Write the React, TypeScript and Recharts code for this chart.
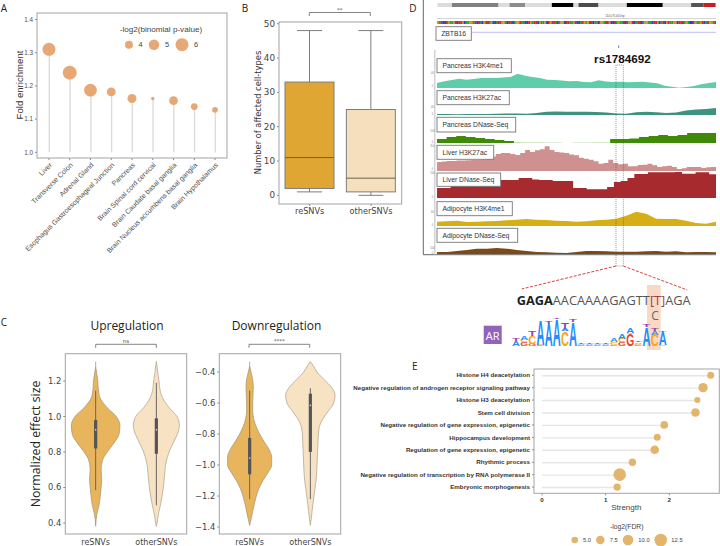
import React from "react"
import {
  Area,
  Bar,
  BarChart,
  Cell,
  ComposedChart,
  Line,
  ReferenceDot,
  ReferenceLine,
  XAxis,
  YAxis,
} from "recharts"

// panel A
const tissues = [
  "Liver",
  "Transverse Colon",
  "Adrenal Gland",
  "Esophagus Gastroesophageal Junction",
  "Pancreas",
  "Brain Spinal cord cervical",
  "Brain Caudate basal ganglia",
  "Brain Nucleus accumbens basal ganglia",
  "Brain Hypothalamus",
]
const foldEnrichment = [1.31, 1.24, 1.187, 1.182, 1.162, 1.162, 1.156, 1.138, 1.128]
const binomialScore = [6, 6.4, 5.9, 4.3, 4.4, 2.2, 4.3, 3.5, 3.1]
const binomialLegend = [4, 5, 6]

// panel B
const groups = ["reSNVs", "otherSNVs"]
const boxWhiskerLow = [1, 0]
const boxQ1 = [2, 1]
const boxMedian = [11, 5]
const boxQ3 = [33, 25]
const boxWhiskerHigh = [48, 48]

// panel C, half widths of the violins per effect size
const upEffect = [1.31, 1.28, 1.25, 1.2, 1.15, 1.1, 1.05, 1, 0.95, 0.9, 0.85, 0.8, 0.75, 0.7, 0.65, 0.6, 0.55, 0.5, 0.45, 0.385, 0.38]
const upReWidth = [null, 0, 0.015, 0.035, 0.045, 0.08, 0.19, 0.34, 0.4, 0.385, 0.3, 0.19, 0.11, 0.09, 0.1, 0.09, 0.075, 0.055, 0.02, 0, null]
const upOtherWidth = [0, 0.012, 0.022, 0.044, 0.06, 0.11, 0.21, 0.34, 0.38, 0.345, 0.275, 0.21, 0.165, 0.143, 0.13, 0.115, 0.093, 0.066, 0.033, 0.004, 0]
const upWhiskers = [[1.145, 0.585], [1.19, 0.5]]
const upBoxes = [[0.98, 0.82], [0.99, 0.79]]
const upMedians = [0.925, 0.925]

const downEffect = [-0.333, -0.36, -0.4, -0.45, -0.5, -0.55, -0.6, -0.65, -0.7, -0.75, -0.8, -0.85, -0.9, -0.95, -1, -1.05, -1.1, -1.15, -1.2, -1.25, -1.3, -1.35, -1.39]
const downReWidth = [null, 0, 0.022, 0.05, 0.06, 0.055, 0.05, 0.05, 0.066, 0.105, 0.165, 0.24, 0.32, 0.363, 0.363, 0.3, 0.22, 0.154, 0.11, 0.077, 0.05, 0.022, 0]
const downOtherWidth = [0, 0.05, 0.11, 0.23, 0.35, 0.407, 0.385, 0.3, 0.21, 0.15, 0.132, 0.126, 0.12, 0.115, 0.11, 0.104, 0.094, 0.077, 0.06, 0.044, 0.028, 0.014, 0]
const downWhiskers = [[-0.52, -1.22], [-0.505, -1.22]]
const downBoxes = [[-0.825, -1.06], [-0.54, -0.915]]
const downMedians = [-0.955, -0.615]

// panel D
const ideogramLengths = [44, 140, 33, 47, 80, 65, 15, 60, 85, 108, 85, 37, 37]
const ideogramShades = ["#dcdcdc", "#808080", "#dcdcdc", "#8c8c8c", "#dcdcdc", "#000000", "#dcdcdc", "#4c4c4c", "#dcdcdc", "#000000", "#dcdcdc", "#555555", "#c81e1e"]
const referenceBases =
  "GATCCTGAAGTCTTGCAAGGATCTACGTTAGCCATTGGACTTCAGGTAACCTGATTCGAAGCTGTTACAGGCTTAAGTCCATGAGTTCAACGGATTGCCTAGAATCTGGTCATTCAGGAACTTGCATCGTAAGGCTTTAGACCTGAAGTCATGGAT"
const baseColors: Record<string, string> = { A: "#2fa02f", C: "#2a3fd0", G: "#d9921a", T: "#d02a2a" }

const h3k4me1Pancreas = [5, 6.7, 8, 9.3, 8.3, 9, 10, 10, 10, 10.5, 11, 14.3, 12.3, 11, 10, 8.3, 8, 7.5, 6.7, 7, 6, 5.7, 7.7, 6.5, 6, 6.3, 5.7, 6, 6.3, 5.5, 4.7, 2.3, 1.3, 0.3, 1, 2, 3.7, 5, 6]
const h3k27acPancreas = [1, 1, 0.8, 1, 1, 1, 1.2, 1.5, 1.5, 1.2, 2, 3.2, 3.5, 3.2, 3.3, 3.2, 3, 2.5, 1.5, 1.2, 2.8, 3.2, 2.8, 2, 2.6, 4.5, 5.5, 6, 7]
const dnasePancreas = [4, 6, 7, 6, 5, 4, 3, 2, 0, 0, 0, 0, 0, 0, 0, 0, 0, 0, 4, 4, 4.5, 6, 7, 8, 7, 8, 10, 10, 10, 12]
const dnasePancreasFaint = [0, 0, 0, 0, 0, 0, 0, 0, 1, 0.8, 0.8, 0.6, 0.6, 0, 0.6, 0.6, 0.8, 0.8, 0, 0, 0, 0, 0, 0, 0, 0, 0, 0, 0, 0]
const h3k27acLiver = [9, 9.5, 10, 10, 10.5, 10.5, 10.8, 11, 11, 11.5, 12, 14.5, 17, 18, 18, 17, 16, 18, 21, 19, 20.7, 21.7, 24.7, 21, 19, 18.5, 18, 16.5, 15.7, 13.3, 12.3, 11.3, 9.7, 7.3, 8, 11.3, 8, 6.7, 7.3, 4.7, 4.7, 6, 6.3, 7.3, 5.7, 4, 4.7, 5.3, 4, 2, 2.7, 4, 4, 4, 3, 3.7, 4, 4]
const dnaseLiver = [10, 10, 18, 18, 18, 18, 18, 18, 18, 18, 18, 18, 20, 20, 18.5, 18, 18, 17, 17, 17, 10, 10, 8.7, 8.7, 8.7, 11, 16, 17, 20, 24, 24, 25.7, 25.7, 25.7, 25.7, 26, 24.3, 24.3, 25.7, 25.7, 23.7, 23.7]
const h3k4me1Adipocyte = [4.3, 4.7, 5.3, 4, 4.3, 4.7, 5, 5.7, 6.3, 7, 6.3, 6, 5.3, 5, 4.3, 4.7, 5.7, 6.3, 7.3, 10.3, 14.3, 12.3, 7.3, 7, 7, 5.3, 3, 2.3, 4.3]
const dnaseAdipocyte = [2, 2, 3, 4, 5.3, 5.3, 6, 5.3, 4, 3, 2, 1.7, 1.3, 1, 2, 3, 3, 2.7, 2.3, 2.3, 2.3, 2.7, 3, 2.3, 2.7, 1.7, 2, 2, 1.7]

const tracks = [
  { name: "Pancreas H3K4me1", values: h3k4me1Pancreas, color: "#5fcdaa", base: 87.7, height: 16, curve: "linear", box: [437, 58.7, 74.3, 14], max: "40" },
  { name: "Pancreas H3K27ac", values: h3k27acPancreas, color: "#3f9180", base: 115.3, height: 10, curve: "linear", box: [437, 90.7, 72.3, 14], max: "40" },
  { name: "Pancreas DNase-Seq", values: dnasePancreas, faint: dnasePancreasFaint, color: "#3f8a08", base: 143.3, height: 14, curve: "stepAfter", box: [437, 117.3, 78.7, 14.7], max: "100" },
  { name: "Liver H3K27ac", values: h3k27acLiver, color: "#cf9090", base: 170.7, height: 26, curve: "stepAfter", box: [437, 145.3, 56.7, 14], max: "8.0" },
  { name: "Liver DNase-Seq", values: dnaseLiver, color: "#a72a2f", base: 198.3, height: 27, curve: "stepAfter", box: [437, 173, 63.7, 13.3], max: "100" },
  { name: "Adipocyte H3K4me1", values: h3k4me1Adipocyte, color: "#d6af16", base: 226.3, height: 16, curve: "linear", box: [437, 201.7, 75.3, 14], max: "60" },
  { name: "Adipocyte DNase-Seq", values: dnaseAdipocyte, color: "#7b4a18", base: 254.3, height: 8, curve: "linear", box: [437, 228.3, 80.7, 14], max: "100" },
]

// sequence logo, one value per motif position
const logoG = [0, 0.14, 0.1, 0.03, 0, 0, 0, 0, 0.02, 0.02, 0.02, 0.02, 0.05, 0.15, 0.45, 0.03, 0, 0, 0]
const logoC = [0, 0.1, 0.28, 0.03, 0, 0, 0.55, 0, 0.02, 0.02, 0.02, 0.02, 0.1, 0.12, 0.05, 0.05, 0, 0.42, 0.03]
const logoA = [0.2, 0.12, 0, 0.92, 0.82, 1, 0.08, 0.9, 0.03, 0.03, 0.03, 0.03, 0.15, 0.18, 0.2, 0.06, 0.7, 0.15, 0.5]
const logoT = [0.1, 0, 0.2, 0, 0.08, 0.04, 0.25, 0.08, 0.02, 0.02, 0.02, 0.02, 0, 0, 0, 0.02, 0.1, 0.08, 0.03]

// panel E
const terms = [
  "Histone H4 deacetylation",
  "Negative regulation of androgen receptor signaling pathway",
  "Histone H3 deacetylation",
  "Stem cell division",
  "Negative regulation of gene expression, epigenetic",
  "Hippocampus development",
  "Regulation of gene expression, epigenetic",
  "Rhythmic process",
  "Negative regulation of transcription by RNA polymerase II",
  "Embryonic morphogenesis",
]
const strength = [2.65, 2.53, 2.44, 2.41, 1.92, 1.81, 1.77, 1.42, 1.22, 1.18]
const fdrScore = [5.5, 8.5, 4.3, 7.5, 6.3, 5.5, 7.5, 6, 12.5, 6]
const fdrLegend = [5, 7.5, 10, 12.5]

const panelARows = tissues.map((tissue, i) => ({
  tissue,
  fold: foldEnrichment[i],
  stem: [1, foldEnrichment[i]],
  score: binomialScore[i],
}))
const panelBRows = groups.map((group, i) => ({
  group,
  box: [boxQ1[i], boxQ3[i]],
  low: boxWhiskerLow[i],
  q1: boxQ1[i],
  median: boxMedian[i],
  q3: boxQ3[i],
  high: boxWhiskerHigh[i],
}))
const panelERows = terms.map((term, i) => ({
  term,
  strength: strength[i],
  stem: [0, strength[i]],
  score: fdrScore[i],
}))
const logoRows = logoA.map((a, i) => ({ pos: i, G: logoG[i], C: logoC[i], A: a, T: logoT[i] }))
const baseRows = referenceBases.split("").map((base, i) => ({ pos: i, base, v: 1 }))
const ideogramRow = [Object.fromEntries(ideogramLengths.map((len, i) => [`s${i}`, len]))]

const radiusA = (score: number) => score * 1.25 - 1
const radiusE = (score: number) => 1.3 + score * 0.4

const SANS = "Liberation Sans"
const DEJAVU = "DejaVu Sans"
const OPEN = "Open Sans"
const FRAME = "#a3a3a3"

const place = (left: number, top: number): React.CSSProperties => ({ position: "absolute", left, top })

function Txt({ x, y, size, font = SANS, fill = "#333", anchor = "middle", weight = 400, rotate, children }: any) {
  return (
    <text
      x={x}
      y={y}
      fontSize={size}
      fontFamily={font}
      fill={fill}
      fontWeight={weight}
      textAnchor={anchor}
      dominantBaseline="central"
      transform={rotate ? `rotate(${rotate} ${x} ${y})` : undefined}
    >
      {children}
    </text>
  )
}

function Bracket({ x1, x2, y, mark }: any) {
  return (
    <g>
      <path d={`M${x1} ${y + 3.5}V${y}H${x2}V${y + 3.5}`} fill="none" stroke="#666" strokeWidth={0.8} />
      <Txt x={(x1 + x2) / 2} y={y - 3} size={5.5} fill="#555" font={DEJAVU}>
        {mark}
      </Txt>
    </g>
  )
}

function Frame({ x, y, w, h }: any) {
  return <rect x={x} y={y} width={w} height={h} fill="none" stroke={FRAME} strokeWidth={1} />
}

// tick labels stay on one line, the default tick wraps them
function SlantedTick({ x, y, payload }: any) {
  return (
    <text
      x={x}
      y={y}
      dy="0.7em"
      textAnchor="end"
      fontSize={7}
      fontFamily={SANS}
      fill="#4d4d4d"
      transform={`rotate(-45 ${x} ${y})`}
    >
      {payload.value}
    </text>
  )
}

function TermTick({ x, y, payload }: any) {
  return (
    <text x={x} y={y} dy="0.35em" textAnchor="end" fontSize={6.2} fontFamily={SANS} fontWeight={700} fill="#333">
      {payload.value}
    </text>
  )
}

function BoxShape({ x, y, width, height, payload, index }: any) {
  const unit = height / (payload.q3 - payload.q1)
  const at = (v: number) => y + (payload.q3 - v) * unit
  const mid = x + width / 2
  const stroke = "#7d7d7d"
  return (
    <g stroke={stroke} strokeWidth={1}>
      <line x1={mid} x2={mid} y1={at(payload.high)} y2={at(payload.low)} />
      <line x1={mid - 12.5} x2={mid + 12.5} y1={at(payload.high)} y2={at(payload.high)} />
      <line x1={mid - 12.5} x2={mid + 12.5} y1={at(payload.low)} y2={at(payload.low)} />
      <rect x={x} y={y} width={width} height={height} fill={index === 0 ? "#e0a633" : "#f6dfbc"} />
      <line x1={x} x2={x + width} y1={at(payload.median)} y2={at(payload.median)} stroke="#6b6050" />
    </g>
  )
}

function Violin({ left, effect, reWidth, otherWidth, whiskers, boxes, medians, domain, ticks }: any) {
  const rows = effect.map((y: number, i: number) => ({
    y,
    re: reWidth[i] == null ? null : [0 - reWidth[i], reWidth[i]],
    other: otherWidth[i] == null ? null : [1 - otherWidth[i], 1 + otherWidth[i]],
  }))
  return (
    <div style={place(left, 340)}>
      <ComposedChart width={150} height={206} data={rows} layout="vertical" margin={{ top: 13.7, right: 3.3, bottom: 0, left: 0 }}>
        <XAxis
          type="number"
          domain={[-0.5, 1.5]}
          ticks={[0, 1]}
          height={12}
          interval={0}
          tickFormatter={(v: number) => groups[v]}
          tick={{ fontSize: 8, fontFamily: DEJAVU, fill: "#444", dy: -1 }}
          tickLine={false}
          axisLine={false}
          tickMargin={0}
        />
        <YAxis
          type="number"
          dataKey="y"
          width={25.3}
          domain={domain}
          ticks={ticks}
          reversed
          allowDataOverflow
          interval={0}
          tickFormatter={(v: number) => v.toFixed(1).replace("-", "\u2212")}
          tick={{ fontSize: 8.4, fontFamily: DEJAVU, fill: "#444" }}
          tickLine={{ stroke: "#888" }}
          tickSize={2}
          axisLine={false}
        />
        <Area dataKey="re" type="monotone" fill="#e8b45c" fillOpacity={1} stroke="#a99a7c" strokeWidth={0.8} isAnimationActive={false} dot={false} activeDot={false} />
        <Area dataKey="other" type="monotone" fill="#f8e2c4" fillOpacity={1} stroke="#b5a893" strokeWidth={0.8} isAnimationActive={false} dot={false} activeDot={false} />
        {[0, 1].map((c) => (
          <ReferenceLine key={`w${c}`} segment={[{ x: c, y: whiskers[c][0] }, { x: c, y: whiskers[c][1] }]} stroke="#666" strokeWidth={1} />
        ))}
        {[0, 1].map((c) => (
          <ReferenceLine key={`b${c}`} segment={[{ x: c, y: boxes[c][0] }, { x: c, y: boxes[c][1] }]} stroke="#555" strokeWidth={3.2} />
        ))}
        {[0, 1].map((c) => (
          <ReferenceDot key={`m${c}`} x={c} y={medians[c]} r={0.8} fill="#ddd" stroke="none" />
        ))}
      </ComposedChart>
    </div>
  )
}

function Track({ track }: any) {
  const rows = track.values.map((v: number, i: number) => ({ i, v, faint: track.faint ? track.faint[i] : 0 }))
  return (
    <div style={place(437, track.base - track.height)}>
      <ComposedChart width={279} height={track.height} data={rows} margin={{ top: 0, right: 0, bottom: 0, left: 0 }}>
        <XAxis dataKey="i" hide />
        <YAxis hide domain={[0, track.height]} allowDataOverflow />
        {track.faint && <Area dataKey="faint" type={track.curve} fill="#c9e2b8" fillOpacity={1} stroke="none" isAnimationActive={false} />}
        <Area dataKey="v" type={track.curve} fill={track.color} fillOpacity={1} stroke="none" isAnimationActive={false} />
      </ComposedChart>
    </div>
  )
}

const logoColors: Record<string, string> = { A: "#1f8fff", C: "#ffa414", G: "#f0401e", T: "#9a3fb5" }
const logoAdvance: Record<string, number> = { A: 0.722, C: 0.722, G: 0.778, T: 0.611 }

const logoLetter = (base: string) => ({ x, y, width, height }: any) => {
  if (!height || height <= 0) return <g />
  const fs = 20
  return (
    <text
      transform={`translate(${x},${y + height}) scale(${width / (logoAdvance[base] * fs)},${height / (0.716 * fs)})`}
      fontSize={fs}
      fontFamily={SANS}
      fontWeight={700}
      fill={logoColors[base]}
    >
      {base}
    </text>
  )
}

export default function App() {
  return (
    <div style={{ position: "absolute", left: 0, top: 0, width: 720, height: 546, background: "#fff", overflow: "hidden" }}>
      <svg width={720} height={546} style={place(0, 0)}>
        <rect x={647} y={285} width={13.7} height={65} fill="#f7d9c6" />
      </svg>

      {/* A */}
      <div style={place(0, 0)}>
        <ComposedChart width={240} height={300} data={panelARows} margin={{ top: 13, right: 13, bottom: 0, left: 0 }} barSize={1.4}>
          <XAxis
            dataKey="tissue"
            height={142}
            interval={0}
            padding={{ left: 1.6, right: 1.6 }}
            tick={<SlantedTick />}
            tickLine={{ stroke: "#888" }}
            tickSize={2}
            axisLine={false}
          />
          <YAxis
            width={37}
            domain={[0.983, 1.4195]}
            ticks={[1, 1.1, 1.2, 1.3, 1.4]}
            allowDataOverflow
            tickFormatter={(v: number) => v.toFixed(1)}
            tick={{ fontSize: 6.3, fontFamily: SANS, fill: "#4d4d4d" }}
            tickLine={{ stroke: "#888" }}
            tickSize={2}
            axisLine={false}
          />
          <Bar dataKey="stem" fill="#dcdcdc" isAnimationActive={false} />
          <Line
            dataKey="fold"
            stroke="none"
            isAnimationActive={false}
            dot={(p: any) => <circle key={p.index} cx={p.cx} cy={p.cy} r={radiusA(p.payload.score)} fill="#e49f68" fillOpacity={0.9} />}
            activeDot={false}
          />
        </ComposedChart>
      </div>

      {/* B */}
      <div style={place(235, 0)}>
        <BarChart width={170} height={230} data={panelBRows} margin={{ top: 22, right: 3.3, bottom: 0, left: 0 }} barSize={49}>
          <XAxis
            dataKey="group"
            height={26}
            interval={0}
            tick={{ fontSize: 8.2, fontFamily: DEJAVU, fill: "#444" }}
            tickLine={{ stroke: "#888" }}
            tickSize={2}
            axisLine={false}
          />
          <YAxis
            width={44}
            domain={[-2.53, 50.5]}
            ticks={[0, 10, 20, 30, 40, 50]}
            allowDataOverflow
            tick={{ fontSize: 8.8, fontFamily: DEJAVU, fill: "#444" }}
            tickLine={{ stroke: "#888" }}
            tickSize={2}
            axisLine={false}
          />
          <Bar dataKey="box" shape={<BoxShape />} isAnimationActive={false} />
        </BarChart>
      </div>

      {/* C */}
      <Violin
        left={40}
        effect={upEffect}
        reWidth={upReWidth}
        otherWidth={upOtherWidth}
        whiskers={upWhiskers}
        boxes={upBoxes}
        medians={upMedians}
        domain={[0.338, 1.354]}
        ticks={[0.4, 0.6, 0.8, 1, 1.2]}
      />
      <Violin
        left={194}
        effect={downEffect}
        reWidth={downReWidth}
        otherWidth={downOtherWidth}
        whiskers={downWhiskers}
        boxes={downBoxes}
        medians={downMedians}
        domain={[-1.445, -0.282]}
        ticks={[-1.4, -1.2, -1, -0.8, -0.6, -0.4]}
      />

      {/* D */}
      <div style={place(437, 3)}>
        <BarChart width={279} height={3.6} data={ideogramRow} layout="vertical" margin={{ top: 0, right: 0, bottom: 0, left: 0 }} barCategoryGap={0}>
          <XAxis type="number" hide domain={[0, 836]} allowDataOverflow />
          <YAxis type="category" hide />
          {ideogramLengths.map((_, i) => (
            <Bar key={i} dataKey={`s${i}`} stackId="chr" fill={ideogramShades[i]} isAnimationActive={false} />
          ))}
        </BarChart>
      </div>
      <div style={place(437, 21)}>
        <BarChart width={279} height={3} data={baseRows} margin={{ top: 0, right: 0, bottom: 0, left: 0 }} barCategoryGap={0}>
          <XAxis dataKey="pos" hide />
          <YAxis hide domain={[0, 1]} />
          <Bar dataKey="v" isAnimationActive={false}>
            {baseRows.map((row) => (
              <Cell key={row.pos} fill={baseColors[row.base]} />
            ))}
          </Bar>
        </BarChart>
      </div>
      {tracks.map((track) => (
        <Track key={track.name} track={track} />
      ))}
      {/* extra room round the plot so the glyph boxes of the logo are not clipped */}
      <div style={place(511.7, 305.5)}>
        <BarChart width={155} height={52.2} data={logoRows} margin={{ top: 12, right: 0, bottom: 12, left: 0 }} barCategoryGap={0}>
          <XAxis dataKey="pos" hide />
          <YAxis hide domain={[0, 1.05]} allowDataOverflow />
          {["G", "C", "A", "T"].map((base) => (
            <Bar key={base} dataKey={base} stackId="logo" shape={logoLetter(base)} isAnimationActive={false} />
          ))}
        </BarChart>
      </div>

      {/* E */}
      <div style={place(330, 360)}>
        <ComposedChart width={390} height={155} data={panelERows} layout="vertical" margin={{ top: 9, right: 0.7, bottom: 0, left: 0 }} barSize={1.4}>
          <XAxis
            type="number"
            height={21.7}
            domain={[-0.126, 2.785]}
            ticks={[0, 1, 2]}
            allowDataOverflow
            tick={{ fontSize: 6.2, fontFamily: SANS, fontWeight: 700, fill: "#333" }}
            tickLine={{ stroke: "#888" }}
            tickSize={2}
            axisLine={false}
          />
          <YAxis
            type="category"
            dataKey="term"
            width={204}
            interval={0}
            tick={<TermTick />}
            tickLine={{ stroke: "#888" }}
            tickSize={2}
            axisLine={false}
          />
          <Bar dataKey="stem" fill="#e6e6e6" isAnimationActive={false} />
          <Line
            dataKey="strength"
            stroke="none"
            isAnimationActive={false}
            dot={(p: any) => <circle key={p.index} cx={p.cx} cy={p.cy} r={radiusE(p.payload.score)} fill="#e3b56c" />}
            activeDot={false}
          />
        </ComposedChart>
      </div>

      {/* text and annotations on top of the charts */}
      <svg width={720} height={546} style={{ ...place(0, 0), pointerEvents: "none" }}>
        <Frame x={37} y={13} w={190} h={145} />
        <Frame x={279} y={22} w={122.7} h={182} />
        <Frame x={65.3} y={353.7} w={121.4} h={180.3} />
        <Frame x={219.3} y={353.7} w={121.4} h={180.3} />
        <Frame x={534} y={369} w={185.3} h={124.3} />

        <Txt x={4} y={8} size={10} font={OPEN} fill="#222">A</Txt>
        <Txt x={245} y={8} size={10} font={OPEN} fill="#222">B</Txt>
        <Txt x={4} y={322} size={10} font={OPEN} fill="#222">C</Txt>
        <Txt x={413} y={8} size={10} font={OPEN} fill="#222">D</Txt>
        <Txt x={414.8} y={366} size={10} font={OPEN} fill="#222">E</Txt>

        <Txt x={19} y={85} size={9.6} fill="#333" rotate={-90}>Fold enrichment</Txt>
        <Txt x={161} y={29} size={8.1} fill="#444">-log2(binomial p-value)</Txt>
        {binomialLegend.map((s, i) => (
          <g key={s}>
            <circle cx={[129, 154, 182][i]} cy={44.7} r={radiusA(s)} fill="#e49f68" fillOpacity={0.9} />
            <Txt x={[140.5, 167, 196][i]} y={44.7} size={7.4} fill="#444">{s}</Txt>
          </g>
        ))}

        <Txt x={257.7} y={112.5} size={8.3} font={DEJAVU} fill="#333" rotate={-90}>Number of affected cell-types</Txt>
        <Bracket x1={309.3} x2={370.3} y={12.5} mark="**" />

        <Txt x={127} y={325.5} size={12} font={OPEN} fill="#222">Upregulation</Txt>
        <Txt x={276.5} y={325.5} size={12} font={OPEN} fill="#222">Downregulation</Txt>
        <Txt x={35} y={444} size={12.3} font={OPEN} fill="#222" rotate={-90}>Normalized effect size</Txt>
        <Bracket x1={95.7} x2={156.3} y={344.3} mark="ns" />
        <Bracket x1={249} x2={309.7} y={344.3} mark="****" />

        {/* genome browser furniture */}
        <path d="M423.3 0V254.7H716" fill="none" stroke="#555" strokeWidth={0.9} />
        <rect x={434} y={50} width={1.5} height={204.5} fill="#d4d4d4" />
        <path d="M437 18.5H716" stroke="#aaa" strokeWidth={0.5} />
        <Txt x={615} y={15.5} size={2.8} fill="#555">114,075,000 bp</Txt>
        <path d="M472 32.3H716" stroke="#7a7ae6" strokeWidth={0.5} />
        <rect x={618.2} y={45.5} width={1} height={2.4} fill="#6a6ae0" />
        <rect x={436} y={26.7} width={35.3} height={13.6} fill="#fff" stroke="#777" strokeWidth={0.9} />
        <Txt x={453.6} y={33.5} size={6.8} fill="#333">ZBTB16</Txt>
        {tracks.map((t) => (
          <g key={t.name}>
            <rect x={t.box[0]} y={t.box[1]} width={t.box[2]} height={t.box[3]} fill="#fff" stroke="#777" strokeWidth={0.9} />
            <Txt x={442.5} y={t.box[1] + t.box[3] / 2} size={6.8} fill="#333" anchor="start">{t.name}</Txt>
            <Txt x={432.5} y={t.base - t.height + 2} size={2.6} fill="#777">{t.max}</Txt>
            <Txt x={432.5} y={t.base - 1} size={2.6} fill="#777">0</Txt>
          </g>
        ))}
        <Txt x={622.4} y={58} size={11.7} weight={700} fill="#111">rs1784692</Txt>
        <path d="M616 266V65H623.3V266H616" fill="none" stroke="#555" strokeWidth={0.6} strokeDasharray="1 1" />
        <path d="M616 266L521.7 289M623.3 266L687.3 290" fill="none" stroke="#d62a2a" strokeWidth={0.9} strokeDasharray="3 1.5" />

        <text x={516.7} y={300} fontSize={12.6} fontFamily={OPEN} dominantBaseline="central" textLength={174} lengthAdjust="spacingAndGlyphs">
          <tspan fontWeight={700} fill="#222">GAGA</tspan>
          <tspan fill="#555">AACAAAAGAGTT</tspan>
          <tspan fill="#a33a44">[T]</tspan>
          <tspan fill="#555">AGA</tspan>
        </text>
        <Txt x={655} y={315} size={12} font={OPEN} fill="#666">C</Txt>
        <rect x={483.7} y={325.7} width={18} height={18.3} fill="#9163bb" />
        <Txt x={492.7} y={335} size={11} font={OPEN} fill="#fff">AR</Txt>

        <Txt x={626.3} y={507} size={8} fill="#444">Strength</Txt>
        <Txt x={626.7} y={526} size={6.8} fill="#444">-log2(FDR)</Txt>
        {fdrLegend.map((s, i) => (
          <g key={s}>
            <circle cx={[574.7, 600.3, 628, 660.7][i]} cy={540} r={radiusE(s)} fill="#e3b56c" />
            <Txt x={[587, 613.7, 644, 677][i]} y={540} size={5.8} fill="#444">{s.toFixed(1)}</Txt>
          </g>
        ))}
      </svg>
    </div>
  )
}
